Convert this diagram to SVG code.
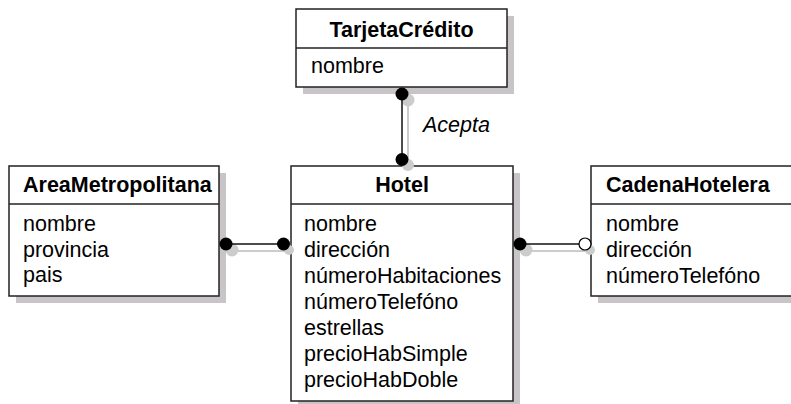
<svg xmlns="http://www.w3.org/2000/svg" width="791" height="404" viewBox="0 0 791 404">
  <style>
    .shadow { fill: #c8c4c8; stroke: none; }
    .box { fill: #ffffff; stroke: #222222; stroke-width: 1.5; }
    .sep { stroke: #222222; stroke-width: 1.5; }
    .title { font-family: "Liberation Sans", Arial, sans-serif; font-size: 21.5px; font-weight: bold; fill: #000; }
    .attr { font-family: "Liberation Sans", Arial, sans-serif; font-size: 21.5px; fill: #000; }
    .label { font-family: "Liberation Sans", Arial, sans-serif; font-size: 21.5px; font-style: italic; fill: #000; }
    .line { stroke: #111111; stroke-width: 1.5; fill: none; }
    .lineShadow { stroke: #cccccc; stroke-width: 2; fill: none; }
    .dot { fill: #000000; }
    .dotShadow { fill: #cccccc; }
    .open { fill: #ffffff; stroke: #000000; stroke-width: 1.2; }
  </style>

  <!-- Entity: TarjetaCredito -->
  <g id="tarjetaCredito">
    <rect class="shadow" x="303" y="16" width="211" height="78"/>
    <rect class="box" x="296" y="9" width="211" height="78"/>
    <line class="sep" x1="296" y1="48" x2="507" y2="48"/>
    <text class="title" x="401.5" y="37" text-anchor="middle">TarjetaCrédito</text>
    <text class="attr" x="311" y="73">nombre</text>
  </g>

  <!-- Entity: AreaMetropolitana -->
  <g id="areaMetropolitana">
    <rect class="shadow" x="16" y="173" width="210" height="130"/>
    <rect class="box" x="9" y="166" width="210" height="130"/>
    <line class="sep" x1="9" y1="204" x2="219" y2="204"/>
    <text class="title" x="23" y="192">AreaMetropolitana</text>
    <text class="attr" x="23" y="231">nombre</text>
    <text class="attr" x="23" y="257">provincia</text>
    <text class="attr" x="23" y="282">pais</text>
  </g>

  <!-- Entity: Hotel -->
  <g id="hotel">
    <rect class="shadow" x="298" y="173" width="222" height="235"/>
    <rect class="box" x="291" y="166" width="222" height="235"/>
    <line class="sep" x1="291" y1="204" x2="513" y2="204"/>
    <text class="title" x="402" y="192" text-anchor="middle">Hotel</text>
    <text class="attr" x="304" y="231">nombre</text>
    <text class="attr" x="304" y="257">dirección</text>
    <text class="attr" x="304" y="283">númeroHabitaciones</text>
    <text class="attr" x="304" y="309">númeroTelefóno</text>
    <text class="attr" x="304" y="335">estrellas</text>
    <text class="attr" x="304" y="361">precioHabSimple</text>
    <text class="attr" x="304" y="387">precioHabDoble</text>
  </g>

  <!-- Entity: CadenaHotelera -->
  <g id="cadenaHotelera">
    <rect class="shadow" x="598" y="173" width="210" height="130"/>
    <rect class="box" x="591" y="166" width="210" height="130"/>
    <line class="sep" x1="591" y1="204" x2="801" y2="204"/>
    <text class="title" x="606" y="192">CadenaHotelera</text>
    <text class="attr" x="606" y="231">nombre</text>
    <text class="attr" x="606" y="257">dirección</text>
    <text class="attr" x="606" y="283">númeroTelefóno</text>
  </g>

  <!-- Relationship connectors, drawn over the entity boxes -->
  <g id="connectors">
    <!-- TarjetaCredito - Hotel (Acepta) -->
    <line class="lineShadow" x1="408" y1="100" x2="408" y2="165"/>
    <circle class="dotShadow" cx="408" cy="100" r="6.5"/>
    <circle class="dotShadow" cx="408" cy="165" r="6"/>
    <line class="line" x1="402" y1="94" x2="402" y2="159" stroke="#555555" stroke-width="2"/>
    <circle class="dot" cx="402" cy="94" r="6.5"/>
    <circle class="dot" cx="402" cy="159.5" r="6.5"/>
    <text class="label" x="423" y="132">Acepta</text>

    <!-- AreaMetropolitana - Hotel -->
    <line class="lineShadow" x1="232" y1="251" x2="289" y2="251"/>
    <circle class="dotShadow" cx="232" cy="250" r="6.5"/>
    <circle class="dotShadow" cx="289" cy="250" r="5"/>
    <line class="line" x1="226" y1="244" x2="283" y2="244"/>
    <circle class="dot" cx="226" cy="244" r="6.5"/>
    <circle class="dot" cx="283.5" cy="244" r="6.5"/>

    <!-- Hotel - CadenaHotelera -->
    <line class="lineShadow" x1="526" y1="251" x2="591" y2="251"/>
    <circle class="dotShadow" cx="526" cy="250" r="6.5"/>
    <circle class="dotShadow" cx="590" cy="250" r="5"/>
    <line class="line" x1="520" y1="244" x2="585" y2="244"/>
    <circle class="dot" cx="520" cy="244" r="6.5"/>
    <circle class="open" cx="585" cy="244" r="6"/>
  </g>
</svg>
